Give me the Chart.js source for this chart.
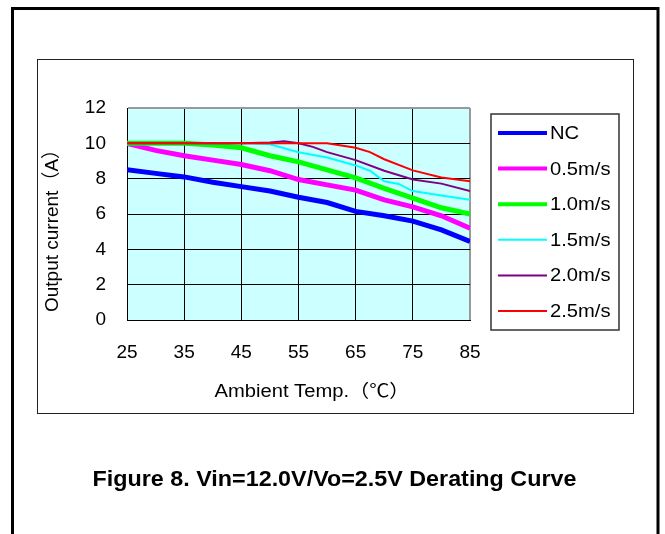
<!DOCTYPE html>
<html>
<head>
<meta charset="utf-8">
<script src="https://cdn.jsdelivr.net/npm/chart.js@4.4.1/dist/chart.umd.min.js"></script>
<style>
  html, body { margin: 0; padding: 0; background: #fff; }
  #wrap { width: 665px; height: 534px; }
</style>
</head>
<body>
<div id="wrap"><canvas id="chart" width="665" height="534"></canvas></div>
<script>
// ambient temperature (°C) and output current (A)
const temps = [25, 30, 35, 40, 45, 50, 55, 60, 65, 70, 75, 80, 85];
const currentNC = [8.5, 8.3, 8.1, 7.8, 7.55, 7.3, 6.95, 6.65, 6.15, 5.9, 5.6, 5.1, 4.45];
const current05 = [10, 9.6, 9.3, 9.05, 8.8, 8.45, 7.95, 7.65, 7.35, 6.8, 6.4, 5.9, 5.2];
const current10 = [10, 10, 10, 9.9, 9.75, 9.3, 8.95, 8.5, 8.05, 7.45, 6.9, 6.35, 6.0];

const temps15 = [25, 45, 50, 55, 60, 65, 67.5, 70, 72.5, 75, 80, 85];
const current15 = [10, 10, 9.95, 9.5, 9.2, 8.75, 8.45, 7.85, 7.7, 7.3, 7.05, 6.8];

const temps20 = [25, 45, 50, 52.5, 55, 57.5, 60, 65, 70, 75, 80, 85];
const current20 = [10, 10, 10.05, 10.12, 10.0, 9.8, 9.5, 9.05, 8.45, 7.95, 7.72, 7.3];

const temps25 = [25, 60, 65, 67.5, 70, 75, 80, 85];
const current25 = [10, 10, 9.75, 9.5, 9.1, 8.47, 8.07, 7.85];

const seriesNames = ['NC', '0.5m/s', '1.0m/s', '1.5m/s', '2.0m/s', '2.5m/s'];
const seriesColors = ['#0000FF', '#FF00FF', '#00FF00', '#00FFFF', '#800080', '#FF0000'];
const seriesWidths = [5, 5, 5, 2, 2, 2];

const FONT = "'Liberation Sans', Arial, 'Noto Sans CJK SC', sans-serif";

const toPoints = (xs, ys) => xs.map((x, i) => ({ x, y: ys[i] }));
const seriesData = [
    toPoints(temps, currentNC),
    toPoints(temps, current05),
    toPoints(temps, current10),
    toPoints(temps15, current15),
    toPoints(temps20, current20),
    toPoints(temps25, current25)
];

// the source picture is a bit wider than tall, so text is stretched sideways
const stretchedText = (ctx, text, x, y, sx) => {
    ctx.save();
    ctx.translate(x, y);
    ctx.scale(sx, 1);
    ctx.fillText(text, 0, 0);
    ctx.restore();
};

/**
 * Draws the plot background, the two frames, the legend box,
 * the axis titles and the figure caption.
 */
const framePlugin = {
    id: 'frame',
    beforeDraw(chart) {
        const { ctx, chartArea: a } = chart;
        ctx.save();
        ctx.fillStyle = '#fff';
        ctx.fillRect(0, 0, chart.width, chart.height);
        ctx.fillStyle = '#CCFFFF';
        ctx.fillRect(a.left, a.top, a.right - a.left, a.bottom - a.top);
        ctx.restore();
    },
    afterDraw(chart) {
        const { ctx } = chart;
        ctx.save();

        // outer page frame (open at the bottom)
        ctx.strokeStyle = '#000';
        ctx.lineWidth = 3;
        ctx.beginPath();
        ctx.moveTo(12.5, 540);
        ctx.lineTo(12.5, 8.5);
        ctx.lineTo(658, 8.5);
        ctx.lineTo(658, 540);
        ctx.stroke();

        // chart frame
        ctx.lineWidth = 1;
        ctx.strokeStyle = '#222';
        ctx.strokeRect(37.5, 59.5, 596, 354);

        // legend
        ctx.lineWidth = 1.5;
        ctx.strokeStyle = '#333';
        ctx.strokeRect(491, 114, 128, 216);
        ctx.font = '18px ' + FONT;
        ctx.textBaseline = 'middle';
        ctx.textAlign = 'left';
        chart.data.datasets.forEach((ds, i) => {
            const y = 133 + i * 35.6;
            ctx.strokeStyle = ds.borderColor;
            ctx.lineWidth = i < 3 ? 4 : 2;
            ctx.beginPath();
            ctx.moveTo(498, y);
            ctx.lineTo(547, y);
            ctx.stroke();
            ctx.fillStyle = '#000';
            stretchedText(ctx, ds.label, 550, y + 1, 1.12);
        });

        // axis titles
        ctx.fillStyle = '#000';
        ctx.font = '18px ' + FONT;
        ctx.textAlign = 'center';
        stretchedText(ctx, 'Ambient Temp.（℃）', 312, 392, 1.12);
        ctx.save();
        ctx.translate(53, 226);
        ctx.rotate(-Math.PI / 2);
        ctx.font = '19px ' + FONT;
        ctx.fillText('Output current（A）', 0, 0);
        ctx.restore();

        // caption
        ctx.font = 'bold 22px ' + FONT;
        stretchedText(ctx, 'Figure 8. Vin=12.0V/Vo=2.5V Derating Curve', 334.5, 480, 1.06);

        ctx.restore();
    }
};

const ctx = document.getElementById('chart').getContext('2d');

new Chart(ctx, {
    type: 'line',
    data: {
        datasets: seriesData.map((points, i) => ({
            label: seriesNames[i],
            data: points,
            borderColor: seriesColors[i],
            backgroundColor: seriesColors[i],
            borderWidth: seriesWidths[i],
            pointRadius: 0,
            tension: 0,
            fill: false,
            order: seriesNames.length - i
        }))
    },
    options: {
        responsive: false,
        animation: false,
        devicePixelRatio: 1,
        layout: { padding: { left: 0, top: 108, right: 195, bottom: 0 } },
        plugins: {
            legend: { display: false },
            tooltip: { enabled: false }
        },
        scales: {
            x: {
                type: 'linear',
                min: 25,
                max: 85,
                afterFit: scale => { scale.height = 214; },
                ticks: {
                    stepSize: 10,
                    padding: 21,
                    autoSkip: false,
                    maxRotation: 0,
                    color: '#000',
                    font: { family: FONT, size: 19 }
                },
                grid: {
                    drawTicks: false,
                    color: c => (c.tick && c.tick.value === 85 ? '#999' : '#000'),
                    lineWidth: c => (c.tick && c.tick.value === 85 ? 2 : 1)
                },
                border: { color: '#000', width: 1 }
            },
            y: {
                min: 0,
                max: 12,
                afterFit: scale => { scale.width = 127; },
                ticks: {
                    stepSize: 2,
                    padding: 21,
                    color: '#000',
                    font: { family: FONT, size: 19 }
                },
                grid: {
                    drawTicks: false,
                    color: c => (c.tick && c.tick.value === 12 ? '#999' : '#000'),
                    lineWidth: c => (c.tick && c.tick.value === 12 ? 2 : 1)
                },
                border: { color: '#000', width: 1 }
            }
        }
    },
    plugins: [framePlugin]
});
</script>
</body>
</html>
